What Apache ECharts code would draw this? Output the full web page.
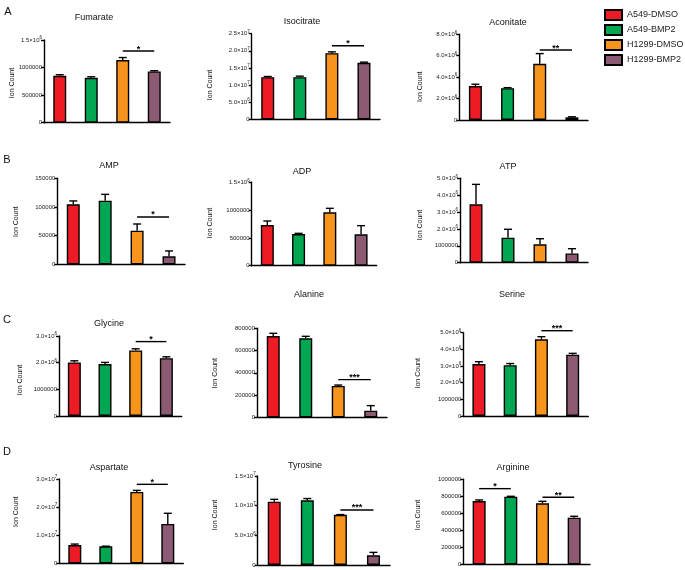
<!DOCTYPE html>
<html>
<head>
<meta charset="utf-8">
<script src="https://cdn.jsdelivr.net/npm/echarts@6/dist/echarts.min.js"></script>
<style>
html,body{margin:0;padding:0;background:#fff;}
#chart{width:685px;height:570px;}
</style>
</head>
<body>
<div id="chart"></div>
<script>
const groups = ['A549-DMSO', 'A549-BMP2', 'H1299-DMSO', 'H1299-BMP2'];
const colors = ['#ED1C24', '#00A651', '#F7941D', '#8C5A72'];
const metabolites = ['Fumarate', 'Isocitrate', 'Aconitate', 'AMP', 'ADP', 'ATP',
  'Glycine', 'Alanine', 'Serine', 'Aspartate', 'Tyrosine', 'Arginine'];
const panelLetters = ['A', 'B', 'C', 'D'];

const means = [
  [850000, 815000, 1137000, 930000],
  [12.3e6, 12.3e6, 19.3e6, 16.5e6],
  [3.17e6, 2.97e6, 5.25e6, 0.25e6],
  [104700, 111000, 58700, 14000],
  [732000, 570000, 960000, 564000],
  [3.46e6, 1.48e6, 1.09e6, 0.55e6],
  [2.01e6, 1.95e6, 2.46e6, 2.17e6],
  [731000, 710000, 282000, 60000],
  [3.12e6, 3.05e6, 4.60e6, 3.68e6],
  [6.5e6, 6.05e6, 25.4e6, 14.0e6],
  [10.67e6, 10.9e6, 8.45e6, 1.63e6],
  [745000, 796000, 718000, 549000]
];
const sems = [
  [20000, 18000, 45000, 12000],
  [0.2e6, 0.3e6, 0.4e6, 0.2e6],
  [0.17e6, 0.05e6, 0.95e6, 0.05e6],
  [5800, 11000, 11600, 9300],
  [72000, 12000, 72000, 156000],
  [1.18e6, 0.5e6, 0.33e6, 0.28e6],
  [0.06e6, 0.06e6, 0.06e6, 0.05e6],
  [24000, 18000, 8000, 45000],
  [0.14e6, 0.10e6, 0.16e6, 0.08e6],
  [0.35e6, 0.05e6, 0.55e6, 3.8e6],
  [0.4e6, 0.3e6, 0.05e6, 0.5e6],
  [12000, 4000, 23000, 16000]
];
const yMax = [1.5e6, 2.5e7, 8e6, 150000, 1.5e6, 5e6, 3e6, 800000, 5e6, 3e7, 1.5e7, 1e6];
const yStep = [500000, 5e6, 2e6, 50000, 500000, 1e6, 1e6, 200000, 1e6, 1e7, 5e6, 200000];
const tickLabels = [
  ['0', '500000', '1000000', '1.5×10^6'],
  ['0', '5.0×10^6', '1.0×10^7', '1.5×10^7', '2.0×10^7', '2.5×10^7'],
  ['0', '2.0×10^6', '4.0×10^6', '6.0×10^6', '8.0×10^6'],
  ['0', '50000', '100000', '150000'],
  ['0', '500000', '1000000', '1.5×10^6'],
  ['0', '1000000', '2.0×10^6', '3.0×10^6', '4.0×10^6', '5.0×10^6'],
  ['0', '1000000', '2.0×10^6', '3.0×10^6'],
  ['0', '200000', '400000', '600000', '800000'],
  ['0', '1000000', '2.0×10^6', '3.0×10^6', '4.0×10^6', '5.0×10^6'],
  ['0', '1.0×10^7', '2.0×10^7', '3.0×10^7'],
  ['0', '5.0×10^6', '1.0×10^7', '1.5×10^7'],
  ['0', '200000', '400000', '600000', '800000', '1000000']
];
// [panel, fromGroup, toGroup, height, stars]
const significance = [
  [0, 2, 3, 1.30e6, '*'],
  [1, 2, 3, 21.5e6, '*'],
  [2, 2, 3, 6.53e6, '**'],
  [3, 2, 3, 82600, '*'],
  [6, 2, 3, 2.79e6, '*'],
  [7, 2, 3, 338600, '***'],
  [8, 2, 3, 5.12e6, '***'],
  [9, 2, 3, 28.1e6, '*'],
  [10, 2, 3, 9.27e6, '***'],
  [11, 0, 1, 890000, '*'],
  [11, 2, 3, 788000, '**']
];

// ---- layout (pixels) ----
const grids = [
  [44, 40, 126, 82.7],
  [251.7, 33.7, 128.3, 85.6],
  [459.3, 34.3, 128.7, 85.7],
  [57.3, 178.3, 127.7, 86],
  [251.7, 182.3, 125, 83.4],
  [460, 178.3, 128, 84.4],
  [59, 336, 122.7, 80],
  [257, 328.3, 130, 89],
  [463.3, 332.7, 125, 83.3],
  [59.3, 479, 124, 84.3],
  [257.7, 476, 132.3, 89],
  [463.3, 479.3, 126.7, 85]
];
const titlePos = [[94, 18], [302, 22], [508, 23], [109, 166], [302, 171.7], [508, 167],
  [109, 323.3], [309, 295], [512, 294.3], [109, 467.7], [305, 465.7], [513, 467.7]];
const ionPos = [[12, 83], [210, 85], [420, 86.7], [16, 221.7], [210, 223], [420, 225],
  [20, 380], [215, 373.3], [418, 373.3], [16, 511.7], [215, 515], [418, 515]];
const letterPos = [[8, 12], [7, 160], [7, 320], [7, 452]];

const lineW = 1.4;
const FF = 'Liberation Sans, Arial, sans-serif';
const option = {
  animation: false,
  backgroundColor: '#fff',
  textStyle: { fontFamily: FF },
  legend: {
    orient: 'vertical', left: 604, top: 9, padding: 0, itemWidth: 17, itemHeight: 10, itemGap: 3,
    icon: 'rect', data: groups,
    textStyle: { fontSize: 9, color: '#222', fontFamily: FF }
  },
  grid: [], xAxis: [], yAxis: [], series: [], graphic: []
};

metabolites.forEach((m, p) => {
  const g = grids[p];
  option.grid.push({ left: g[0], top: g[1], width: g[2], height: g[3], containLabel: false });
  option.xAxis.push({
    type: 'category', gridIndex: p, data: groups,
    axisLine: { lineStyle: { color: '#000', width: lineW } },
    axisTick: { show: false }, axisLabel: { show: false }
  });
  const labels = tickLabels[p];
  const step = yStep[p];
  option.yAxis.push({
    type: 'value', gridIndex: p, min: 0, max: yMax[p], interval: step,
    splitLine: { show: false },
    axisLine: { show: true, lineStyle: { color: '#000', width: lineW } },
    axisTick: { show: true, length: 3, lineStyle: { color: '#000', width: lineW } },
    axisLabel: {
      fontSize: 6, color: '#222', margin: 2,
      formatter: v => {
        const s = labels[Math.round(v / step)] || '';
        return s.replace(/\^(\d+)/, '{sup|$1}');
      },
      rich: { sup: { fontSize: 4.5, color: '#222', padding: [0, 0, 4, 0] } }
    }
  });
  groups.forEach((gname, gi) => {
    option.series.push({
      type: 'bar', name: gname, xAxisIndex: p, yAxisIndex: p,
      barWidth: 13, barGap: '-100%',
      data: means[p].map((v, i) => (i === gi ? v : '-')),
      itemStyle: { color: colors[gi], borderColor: '#000', borderWidth: lineW },
      silent: true
    });
  });
  option.series.push({
    type: 'custom', xAxisIndex: p, yAxisIndex: p, z: 5, silent: true,
    data: means[p].map((v, i) => [i, v, v + sems[p][i]]),
    renderItem: (params, api) => {
      const x = api.value(0);
      const a = api.coord([x, api.value(1)]);
      const b = api.coord([x, api.value(2)]);
      const st = { stroke: '#000', lineWidth: lineW };
      return {
        type: 'group', children: [
          { type: 'line', shape: { x1: a[0], y1: a[1], x2: b[0], y2: b[1] }, style: st },
          { type: 'line', shape: { x1: b[0] - 4, y1: b[1], x2: b[0] + 4, y2: b[1] }, style: st }
        ]
      };
    }
  });
  const sigs = significance.filter(s => s[0] === p);
  if (sigs.length) {
    option.series.push({
      type: 'custom', xAxisIndex: p, yAxisIndex: p, z: 5, silent: true, clip: false,
      data: sigs.map(s => [s[1], s[2], s[3]]),
      renderItem: (params, api) => {
        const s = sigs[params.dataIndex];
        const a = api.coord([s[1], s[3]]);
        const b = api.coord([s[2], s[3]]);
        return {
          type: 'group', children: [
            { type: 'line', shape: { x1: a[0], y1: a[1], x2: b[0], y2: b[1] }, style: { stroke: '#000', lineWidth: lineW } },
            { type: 'text', x: (a[0] + b[0]) / 2, y: a[1] - 2,
              style: { text: s[4], fontSize: 9, fontWeight: 'bold', fill: '#000', align: 'center', verticalAlign: 'middle',
                fontFamily: FF } }
          ]
        };
      }
    });
  }
  option.graphic.push({
    type: 'text', x: titlePos[p][0], y: titlePos[p][1],
    style: { text: m, fontSize: 9, fill: '#111', align: 'center', verticalAlign: 'middle', fontFamily: FF }
  });
  option.graphic.push({
    type: 'text', x: ionPos[p][0], y: ionPos[p][1], rotation: Math.PI / 2,
    style: { text: 'Ion Count', fontSize: 7, fill: '#111', align: 'center', verticalAlign: 'middle', fontFamily: FF }
  });
});
panelLetters.forEach((L, i) => {
  option.graphic.push({
    type: 'text', x: letterPos[i][0], y: letterPos[i][1],
    style: { text: L, fontSize: 11, fill: '#111', align: 'center', verticalAlign: 'middle', fontFamily: FF }
  });
});

const chart = echarts.init(document.getElementById('chart'), null, { renderer: 'canvas' });
chart.setOption(option);
</script>
</body>
</html>
